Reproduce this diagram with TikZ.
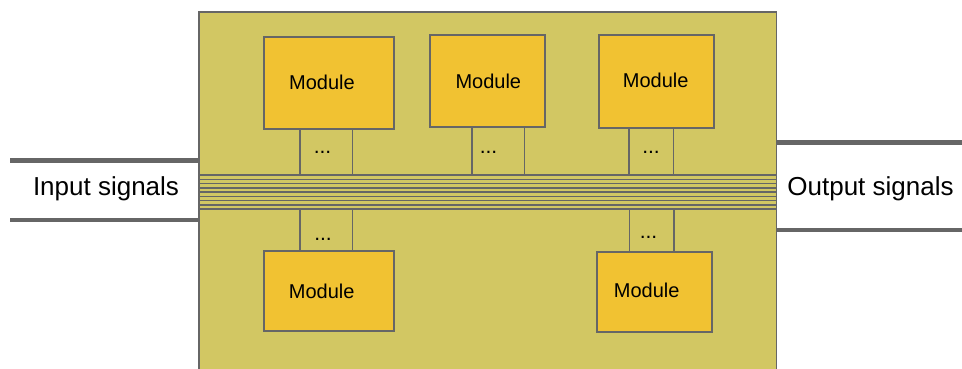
\documentclass[tikz,border=0pt]{standalone}
\usepackage{fontspec}
\setmainfont{Liberation Sans}
\definecolor{boardfill}{HTML}{D2C763}
\definecolor{modfill}{HTML}{F1C232}
\definecolor{edgegray}{HTML}{666666}
\tikzset{
  board/.style={draw=edgegray, line width=1.6pt, fill=boardfill},
  module/.style={draw=edgegray, line width=1.9pt, fill=modfill, inner sep=0pt},
  modtext/.style={font=\fontsize{20}{20}\selectfont, inner sep=0pt},
  leg/.style={draw=edgegray, line width=1.6pt},
  busline/.style={draw=edgegray, line width=1.5pt},
  buscore/.style={draw=edgegray, line width=2.4pt},
  sigline/.style={draw=edgegray, line width=4.5pt},
  sigtext/.style={font=\fontsize{26}{26}\selectfont, inner sep=0pt},
  dots/.style={font=\fontsize{21}{21}\selectfont, inner sep=0pt}
}
\begin{document}
\begin{tikzpicture}[x=1pt,y=-1pt]
\useasboundingbox (0,0) rectangle (962,369);
\clip (0,0) rectangle (962,369);
% board
\node[board, minimum width=577.5pt, minimum height=380pt, anchor=north west, inner sep=0pt] (board) at (198,11) {};
% signal lines
\coordinate (inA) at (10,160.7);
\coordinate (inB) at (10,220);
\coordinate (outA) at (962,142.7);
\coordinate (outB) at (962,230);
\draw[sigline] (inA) -- (inA -| board.west);
\draw[sigline] (inB) -- (inB -| board.west);
\draw[sigline] (outA -| board.east) -- (outA);
\draw[sigline] (outB -| board.east) -- (outB);
\node[sigtext] (intext) at (106,188.5) {Input signals};
\node[sigtext] (outtext) at (870.5,188.5) {Output signals};
% bus
\foreach \i in {0,...,8}{
  \coordinate (bl\i) at (198,175+\i*4.25);
  \coordinate (br\i) at (775.5,175+\i*4.25);
}
\foreach \i in {0,1,2,3,5,6,7,8}{ \draw[busline] (bl\i) -- (br\i); }
\draw[buscore] (bl4) -- (br4);
\coordinate (bustop) at (198,175);
\coordinate (busbot) at (198,209);
% modules
\node[module, minimum width=129.7pt, minimum height=92pt] (m1) at (329.2,82.7) {};
\node[modtext] (t1) at (322,82) {Module};
\node[module, minimum width=115pt, minimum height=91.7pt] (m2) at (487.5,80.9) {};
\node[modtext] (t2) at (488.3,81) {Module};
\node[module, minimum width=115.3pt, minimum height=92.4pt] (m3) at (656.7,81.5) {};
\node[modtext] (t3) at (655.7,80) {Module};
\node[module, minimum width=129.7pt, minimum height=79.7pt] (m4) at (329.2,290.9) {};
\node[modtext] (t4) at (321.7,291) {Module};
\node[module, minimum width=115pt, minimum height=79.7pt] (m5) at (654.8,291.9) {};
\node[modtext] (t5) at (646.7,290) {Module};
% legs top
\foreach \m/\a/\b in {m1/299.7/352.3, m2/471.7/524.3, m3/628.7/673.3}{
  \coordinate (\m la) at (\a,0 |- \m.south);
  \coordinate (\m lb) at (\b,0 |- \m.south);
  \draw[leg] (\m la) -- (\m la |- bustop);
  \draw[leg] (\m lb) -- (\m lb |- bustop);
}
\foreach \m/\a/\b in {m4/299.7/352.3, m5/629.3/674}{
  \coordinate (\m la) at (\a,0 |- \m.north);
  \coordinate (\m lb) at (\b,0 |- \m.north);
  \draw[leg] (\m la) -- (\m la |- busbot);
  \draw[leg] (\m lb) -- (\m lb |- busbot);
}
% dots
\node[dots] (d1) at (322.5,152.5) {...};
\node[dots] (d2) at (488.5,152.5) {...};
\node[dots] (d3) at (651,152) {...};
\node[dots] (d4) at (323,239.5) {...};
\node[dots] (d5) at (648.5,237.5) {...};
\end{tikzpicture}
\end{document}
